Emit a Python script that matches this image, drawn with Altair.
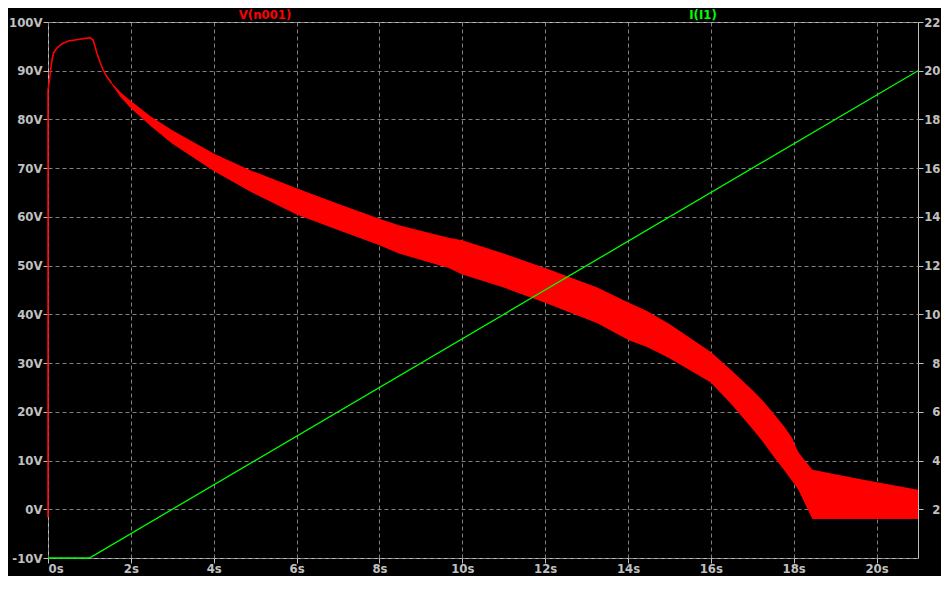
import altair as alt
import pandas as pd

# --- V(n001): initial single trace (t in s, V in volts)
t_start = [0.0, 0.0, 0.05, 0.09, 0.13, 0.21, 0.33, 0.49, 0.73, 1.01, 1.09, 1.17, 1.25, 1.33, 1.41, 1.53]
v_start = [-1.7, 86.0, 89.2, 91.9, 93.6, 94.6, 95.5, 96.1, 96.4, 96.8, 96.3, 93.9, 91.9, 90.2, 88.9, 87.5]

# --- V(n001): oscillation band envelope
t_band = [1.41, 1.53, 1.75, 2.0, 2.5, 3.0, 4.0, 4.88, 6.0, 7.0, 8.0, 8.47, 9.67, 10.0, 11.0, 12.0,
          13.26, 14.02, 14.46, 15.0, 16.0, 16.5, 17.0, 17.26, 17.5, 17.77, 17.97, 18.05, 18.13, 18.45,
          19.65, 21.0]
v_upper = [88.9, 87.6, 85.6, 83.8, 80.5, 77.8, 73.0, 69.6, 65.9, 62.7, 59.6, 58.3, 55.7, 55.2, 52.5, 49.5,
           45.5, 42.4, 40.7, 38.0, 32.3, 28.5, 24.5, 22.2, 19.8, 17.0, 14.5, 12.8, 11.5, 8.1,
           6.1, 4.0]
v_lower = [88.9, 87.3, 84.6, 82.3, 78.5, 75.0, 69.4, 65.2, 60.5, 57.3, 54.2, 52.5, 49.5, 48.2, 45.5, 42.4,
           38.2, 34.7, 33.3, 31.0, 26.0, 21.5, 16.5, 13.8, 11.0, 8.0, 5.7, 4.8, 3.7, -2.0,
           -2.0, -2.0]

# --- I(I1)
t_cur = [0.0, 1.0, 21.0]
i_cur = [0.0, 0.0, 20.0]

v_ticks = list(range(-10, 101, 10))
i_ticks = list(range(2, 23, 2))
t_ticks = list(range(0, 21, 2))

df_start = pd.DataFrame({"t": t_start, "v": v_start, "k": list(range(len(t_start)))})
df_band = pd.DataFrame({"t": t_band, "hi": v_upper, "lo": v_lower})
df_cur = pd.DataFrame({"t": t_cur, "i": i_cur})

FONT = "Liberation Sans Narrow, DejaVu Sans Condensed, Liberation Sans, sans-serif"
GRAY = "#c0c0c0"

x_enc = alt.X("t:Q", scale=alt.Scale(domain=[0, 21], nice=False, zero=False),
              axis=alt.Axis(values=t_ticks, labelExpr="datum.value + 's'", title=None,
                            tickSize=5, labelPadding=9, labelBaseline="alphabetic",
                            grid=True, domain=False))
v_scale = alt.Scale(domain=[-10, 100], nice=False, zero=False)
v_axis = alt.Axis(values=v_ticks, labelExpr="datum.value + 'V'", title=None, tickSize=5,
                  labelPadding=1, grid=True, domain=False, orient="left")

band = alt.Chart(df_band).mark_area(color="#ff0000", opacity=1, interpolate="linear").encode(
    x=x_enc,
    y=alt.Y("hi:Q", scale=v_scale, axis=v_axis),
    y2="lo:Q",
)
start = alt.Chart(df_start).mark_line(color="#ff0000", strokeWidth=1.6).encode(
    x="t:Q",
    y=alt.Y("v:Q", scale=v_scale, axis=v_axis),
    order="k:Q",
)
cur = alt.Chart(df_cur).mark_line(color="#00ff00", strokeWidth=1.3).encode(
    x="t:Q",
    y=alt.Y("i:Q", scale=alt.Scale(domain=[0, 22], nice=False, zero=False),
            axis=alt.Axis(values=i_ticks, title=None, orient="right", grid=False, tickSize=5,
                          labelPadding=17, labelAlign="right", domain=False)),
)

lab = pd.DataFrame({"name": ["V(n001)"]})
lab2 = pd.DataFrame({"name": ["I(I1)"]})
title_v = alt.Chart(lab).mark_text(color="#ff0000", font=FONT, fontWeight="bold", fontSize=13,
                                   baseline="top", align="center").encode(
    text="name:N", x=alt.value(217), y=alt.value(-13))
title_i = alt.Chart(lab2).mark_text(color="#00ff00", font=FONT, fontWeight="bold", fontSize=13,
                                    baseline="top", align="center").encode(
    text="name:N", x=alt.value(655), y=alt.value(-13))

left = alt.layer(band, start, title_v, title_i)
chart = alt.layer(left, cur).resolve_scale(y="independent").properties(
    width=870, height=536,
    padding={"left": 40, "top": 14, "right": 23, "bottom": 18},
    autosize=alt.AutoSizeParams(type="none"),
    background="#000000",
).configure_view(
    stroke=GRAY, strokeWidth=1, fill="#000000"
).configure_axis(
    labelFont=FONT, labelFontWeight="bold", labelFontSize=13, labelColor=GRAY,
    tickColor=GRAY, gridColor="#808080", gridDash=[4, 3], gridWidth=1,
)

chart.save("out.html", embed_options={"renderer": "svg", "actions": False})
